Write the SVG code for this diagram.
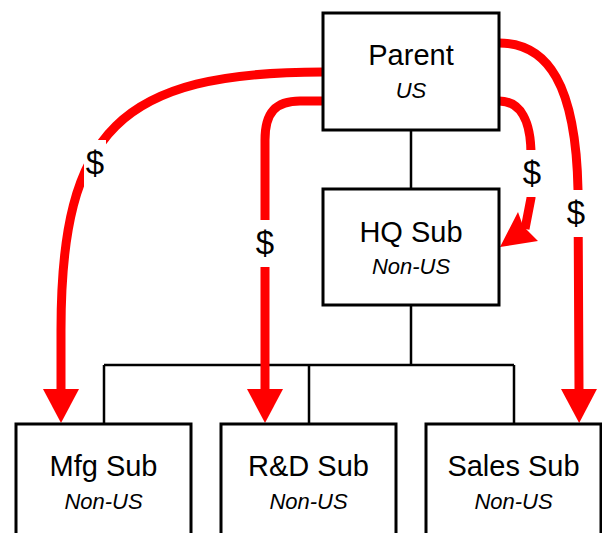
<svg xmlns="http://www.w3.org/2000/svg" width="602" height="533" viewBox="0 0 602 533">
<defs>
<style>
.box{fill:#fff;stroke:#000;stroke-width:3}
.t{font-family:"Liberation Sans",Arial,sans-serif;font-size:29px;fill:#000;text-anchor:middle}
.s{font-family:"Liberation Sans",Arial,sans-serif;font-size:22px;font-style:italic;fill:#000;text-anchor:middle}
.ln{fill:none;stroke:#000;stroke-width:2.5}
.flow{fill:none;stroke:#ff0000;stroke-width:9;stroke-linejoin:round}
.gap{fill:#fff}
.d{font-family:"Liberation Sans",Arial,sans-serif;font-size:33px;fill:#000;text-anchor:middle}
</style>
<marker id="ah" markerUnits="userSpaceOnUse" markerWidth="34" markerHeight="36" viewBox="0 0 34 36" refX="0" refY="18" orient="auto">
<path d="M0,0 L34,18 L0,36 z" fill="#ff0000"/>
</marker>
</defs>
<rect width="602" height="533" fill="#fff"/>
<g id="connectors">
<path class="ln" d="M411,130 V189 M411,305 V365 M104,365 H514 M104,365 V424 M309,365 V424 M514,365 V424"/>
<path class="flow" d="M323,72 C 120,72 61,130 61,330 L61,389" marker-end="url(#ah)"/>
<path class="flow" d="M323,101 L300,101 C 276,101 265,112 265,140 L265,389" marker-end="url(#ah)"/>
<path class="flow" d="M499,43 C 548,43 576,85 578,190 L579,389" marker-end="url(#ah)"/>
<path class="flow" d="M499,101 C 521,101 531,122 531,155 L531,198 L525,229"/>
<polygon points="500,247 518,212 523,226 538,241" fill="#ff0000"/>
<rect class="gap" x="84" y="140" width="22" height="47"/>
<text class="d" x="95" y="174">$</text>
<rect class="gap" x="254" y="220" width="22" height="47"/>
<text class="d" x="265" y="254">$</text>
<rect class="gap" x="521" y="150" width="22" height="47"/>
<text class="d" x="532" y="184">$</text>
<rect class="gap" x="565" y="190" width="22" height="47"/>
<text class="d" x="576" y="224">$</text>
</g>
<g id="parent">
<rect class="box" x="323" y="13" width="176" height="117"/>
<text class="t" x="411" y="65">Parent</text>
<text class="s" x="411" y="98">US</text>
</g>
<g id="hq-sub">
<rect class="box" x="323" y="189" width="176" height="116"/>
<text class="t" x="411" y="242">HQ Sub</text>
<text class="s" x="411" y="274">Non-US</text>
</g>
<g id="mfg-sub">
<rect class="box" x="16" y="424" width="175" height="130"/>
<text class="t" x="103.5" y="476">Mfg Sub</text>
<text class="s" x="103.5" y="509">Non-US</text>
</g>
<g id="rd-sub">
<rect class="box" x="221" y="424" width="175" height="130"/>
<text class="t" x="308.5" y="476">R&amp;D Sub</text>
<text class="s" x="308.5" y="509">Non-US</text>
</g>
<g id="sales-sub">
<rect class="box" x="426" y="424" width="175" height="130"/>
<text class="t" x="513.5" y="476">Sales Sub</text>
<text class="s" x="513.5" y="509">Non-US</text>
</g>
</svg>
